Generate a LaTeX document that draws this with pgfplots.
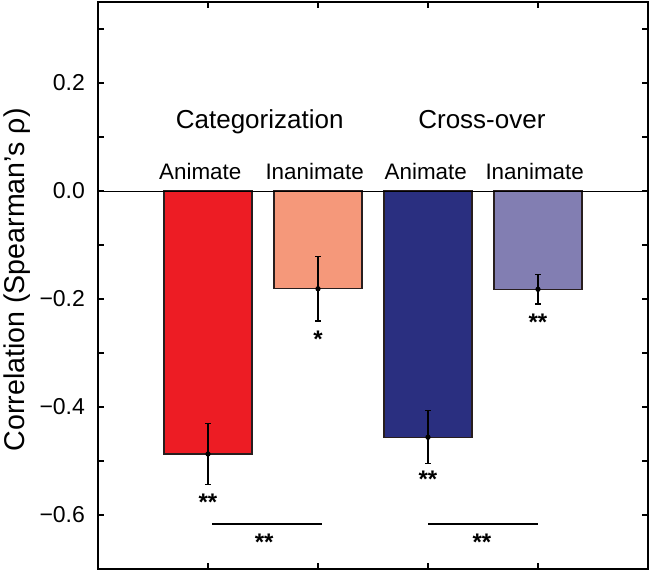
\documentclass[border=0pt]{standalone}
\usepackage{fontspec}
\setmainfont{Liberation Sans}
\usepackage{pgfplots}
\usepackage{pgfplotstable}
\pgfplotsset{compat=1.18}

\definecolor{catanim}{RGB}{237,28,36}
\definecolor{catinan}{RGB}{245,152,122}
\definecolor{crossanim}{RGB}{42,47,128}
\definecolor{crossinan}{RGB}{130,126,178}
\definecolor{edge}{RGB}{40,30,30}

% x: 1 = Categorization animate, 2 = Categorization inanimate,
%    3 = Cross-over animate,     4 = Cross-over inanimate
\pgfplotstableread{
x y err
1 -0.487 0.057
2 -0.181 0.060
3 -0.456 0.049
4 -0.182 0.027
}\corrdata

\begin{document}
\begin{tikzpicture}
\begin{axis}[
    scale only axis,
    width=275pt, height=283.5pt,
    xmin=0, xmax=5,
    ymin=-0.7, ymax=0.35,
    xtick={1,2,3,4},
    xticklabel=\empty,
    ytick={-0.6,-0.4,-0.2,0,0.2},
    yticklabels={−0.6,−0.4,−0.2,0.0,0.2},
    minor ytick={-0.5,-0.3,-0.1,0.1,0.3},
    tick align=inside,
    major tick length=3pt,
    minor tick length=3pt,
    axis line style={line width=1pt},
    tick style={black, line width=0.6pt},
    yticklabel style={font=\fontsize{11.5}{13}\selectfont, xshift=-3pt},
    ylabel={Correlation (Spearman’s ρ)},
    every axis y label/.style={at={(axis description cs:-0.147,0.51)}, rotate=90,
        anchor=center, font=\fontsize{14.3}{16}\selectfont},
    clip=false,
]
    \addplot[ybar, bar width=0.8, bar shift=0pt, fill=catanim, draw=edge, line width=0.6pt]
        coordinates {(1,-0.487)};
    \addplot[ybar, bar width=0.8, bar shift=0pt, fill=catinan, draw=edge, line width=0.6pt]
        coordinates {(2,-0.181)};
    \addplot[ybar, bar width=0.8, bar shift=0pt, fill=crossanim, draw=edge, line width=0.6pt]
        coordinates {(3,-0.456)};
    \addplot[ybar, bar width=0.8, bar shift=0pt, fill=crossinan, draw=edge, line width=0.6pt]
        coordinates {(4,-0.182)};

    \draw[line width=0.5pt] (axis cs:0,0) -- (axis cs:5,0);

    \addplot[only marks, mark=*, mark size=1.1pt, black,
        error bars/.cd, y dir=both, y explicit,
        error bar style={line width=0.65pt, black},
        error mark options={rotate=90, mark size=1.4pt, line width=0.65pt, black}]
        table[x=x, y=y, y error=err] {\corrdata};

    % significance brackets
    \draw[line width=1pt] (axis cs:1.04,-0.617) -- (axis cs:2.04,-0.617);
    \draw[line width=1pt] (axis cs:3.0,-0.617) -- (axis cs:4.0,-0.617);

    \begin{scope}[every node/.style={anchor=base, font=\fontsize{12}{14}\selectfont\bfseries, yshift=-6pt, inner sep=0pt}]
        \node at (axis cs:1.0,-0.569) {**};
        \node at (axis cs:2.0,-0.267) {*};
        \node at (axis cs:3.0,-0.526) {**};
        \node at (axis cs:4.0,-0.237) {**};
        \node at (axis cs:1.51,-0.643) {**};
        \node at (axis cs:3.49,-0.643) {**};
    \end{scope}

    \begin{scope}[every node/.style={anchor=base, font=\fontsize{11.2}{13}\selectfont, inner sep=0pt}]
        \node at (axis cs:0.93,0.022) {Animate};
        \node at (axis cs:1.97,0.022) {Inanimate};
        \node at (axis cs:2.98,0.022) {Animate};
        \node at (axis cs:3.97,0.022) {Inanimate};
    \end{scope}
    \node[anchor=base, font=\fontsize{13}{15}\selectfont, inner sep=0pt] at (axis cs:1.47,0.115) {Categorization};
    \node[anchor=base, font=\fontsize{13}{15}\selectfont, inner sep=0pt] at (axis cs:3.49,0.115) {Cross-over};
\end{axis}
\pgfresetboundingbox
\path (current axis.south west) ++(-49pt,-1pt) coordinate (bbl);
\path (current axis.north east) ++(1.5pt,1pt) coordinate (bbr);
\useasboundingbox (bbl) rectangle (bbr);
\end{tikzpicture}
\end{document}
